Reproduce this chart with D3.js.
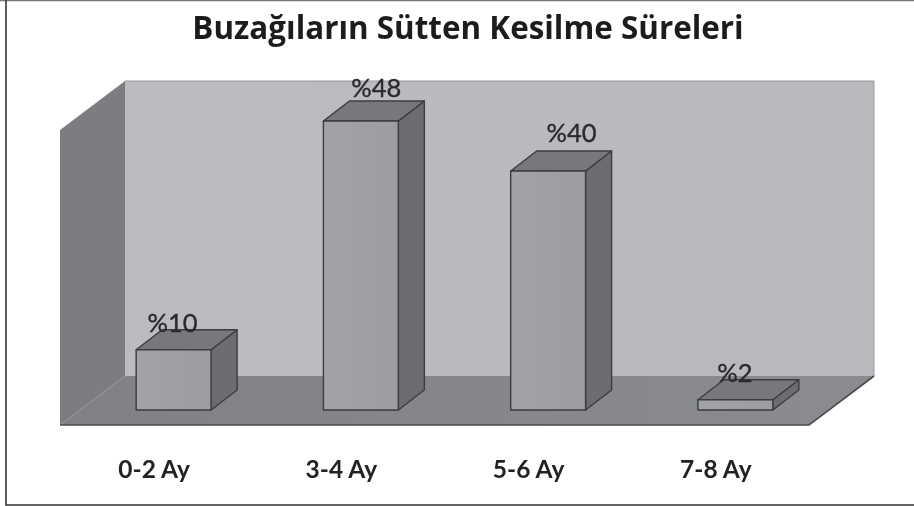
<!DOCTYPE html>
<html><head><meta charset="utf-8">
<script src="https://cdn.jsdelivr.net/npm/d3@7"></script>
<style>html,body{margin:0;background:#fff}svg{display:block}</style></head>
<body><svg id="c" width="914" height="506"></svg>
<script>
const chartTitle = "Buzağıların Sütten Kesilme Süreleri";
const categories = ["0-2 Ay","3-4 Ay","5-6 Ay","7-8 Ay"];
const values = [10,48,39.7,1.7];
const valueLabels = ["%10","%48","%40","%2"];

const W=914,H=506;
const svg=d3.select("#c");
const defs=svg.append("defs");
function grad(id,a,b){const g=defs.append("linearGradient").attr("id",id).attr("x1",0).attr("x2",1).attr("y1",0).attr("y2",0);
 g.append("stop").attr("offset",0).attr("stop-color",a);g.append("stop").attr("offset",1).attr("stop-color",b);}
grad("front","#a2a3a6","#9c9da0");
grad("wall","#bbbcbf","#b8b9bc");
grad("floor","#808184","#8b8c8f");
defs.append("filter").attr("id","soft").attr("x",-0.1).attr("y",-0.1).attr("width",1.2).attr("height",1.2)
 .append("feGaussianBlur").attr("stdDeviation",0.55);

const root=svg.append("g");

// frame
svg.append("path").attr("d","M0,0.5H914").attr("fill","none").attr("stroke","#7a7a7a").attr("stroke-width",1.5);
svg.append("path").attr("d","M6,0V505H914").attr("fill","none").attr("stroke","#333").attr("stroke-width",1.6);

const art=root.append("g").attr("filter","url(#soft)");
// 3-D projection: depth offset
const dx=65,dy=-49,barDx=26,barDy=-20;
const x=d3.scaleBand().domain(categories).range([80,829]).paddingInner(0.6).paddingOuter(0.3);
const baseY=410, floorY=425, wallFrontX=60, wallFrontR=809;
const y=d3.scaleLinear().domain([0,48]).range([baseY,121]);
const topFront=130;
const line=d3.line();

// walls
art.append("path").attr("d",line([[wallFrontX+dx,floorY+dy],[wallFrontX+dx,topFront+dy],[wallFrontR+dx,topFront+dy],[wallFrontR+dx,floorY+dy]])+"Z").attr("fill","url(#wall)");
art.append("path").attr("d",line([[wallFrontX+dx,topFront+dy],[wallFrontR+dx,topFront+dy]])).attr("stroke","#96979a").attr("stroke-width",1.2).attr("fill","none");
art.append("path").attr("d",line([[wallFrontR+dx,topFront+dy],[wallFrontR+dx,floorY+dy]])).attr("stroke","#9a9b9e").attr("stroke-width",1).attr("fill","none");
art.append("path").attr("d",line([[wallFrontX,topFront],[wallFrontX+dx,topFront+dy],[wallFrontX+dx,floorY+dy],[wallFrontX,floorY]])+"Z").attr("fill","#7c7d80");
art.append("path").attr("d",line([[wallFrontX,floorY],[wallFrontX+dx,floorY+dy],[wallFrontR+dx,floorY+dy],[wallFrontR,floorY]])+"Z").attr("fill","url(#floor)");
art.append("path").attr("d",line([[wallFrontX,floorY],[wallFrontR,floorY],[wallFrontR+dx,floorY+dy]])).attr("stroke","#4a4b4d").attr("stroke-width",1.6).attr("fill","none");

// bars
const data=categories.map((c,i)=>({c,v:values[i],l:valueLabels[i],i}));
const bars=art.selectAll("g.bar").data(data).join("g").attr("class","bar");
const st=s=>s.attr("stroke","#3c3d3f").attr("stroke-width",1.4).attr("stroke-linejoin","round");
bars.append("path").attr("fill","#6c6d70").call(st).attr("d",d=>{const l=x(d.c)+x.bandwidth();
  return line([[l,y(d.v)],[l+barDx,y(d.v)+barDy],[l+barDx,baseY+barDy],[l,baseY]])+"Z";});
bars.append("path").attr("fill","#77787b").call(st).attr("d",d=>{const a=x(d.c),b=a+x.bandwidth();
  return line([[a,y(d.v)],[a+barDx,y(d.v)+barDy],[b+barDx,y(d.v)+barDy],[b,y(d.v)]])+"Z";});
bars.append("rect").attr("fill","url(#front)").call(st)
  .attr("x",d=>x(d.c)).attr("width",x.bandwidth()).attr("y",d=>y(d.v)).attr("height",d=>baseY-y(d.v));

// value labels sit at hand-placed offsets from the bar's front top centre, as in the source
const nudgeX=[-1,15.5,23.5,-0.5], nudgeY=[-18,-24,-29,-18];
art.selectAll("text.val").data(data).join("text").attr("class","val")
  .attr("x",d=>x(d.c)+x.bandwidth()/2+nudgeX[d.i]).attr("y",d=>y(d.v)+nudgeY[d.i])
  .attr("text-anchor","middle").attr("font-family","Lato").attr("font-size",25.5).attr("fill","#2a2a2c")
  .attr("stroke","#2a2a2c").attr("stroke-width",0.35)
  .text(d=>d.l);

// category labels
const axis=art.append("g").attr("transform","translate(-19.5,478)").call(d3.axisBottom(x).tickSize(0).tickPadding(0));
axis.select(".domain").remove();
axis.selectAll("text").attr("y",0).attr("dy",0).attr("font-family","Lato").attr("font-weight",700).attr("font-size",24.5).attr("fill","#222");

// title
art.append("text").attr("x",468).attr("y",39).attr("text-anchor","middle").attr("font-family","Open Sans").attr("font-weight",700).attr("font-size",31.4).attr("fill","#1f1f1f").text(chartTitle);
</script></body></html>
